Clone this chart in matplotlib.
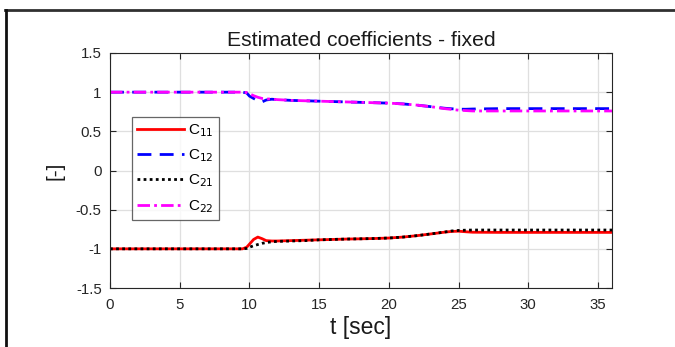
import matplotlib
matplotlib.use("Agg")
import matplotlib.pyplot as plt
from matplotlib.lines import Line2D

plt.rcParams['font.family'] = ['Liberation Sans', 'DejaVu Sans']

t = [0, 9.0, 9.5, 9.8, 10.0, 10.3, 10.6, 10.9, 11.2, 11.6, 12, 13, 14, 15, 16, 17, 18, 19, 20,
     21, 22, 23, 24, 24.5, 25, 25.5, 26, 28, 30, 32, 34, 36]
c11 = [-1, -1, -1, -0.98, -0.94, -0.88, -0.85, -0.87, -0.895, -0.9, -0.9, -0.895, -0.89, -0.885,
       -0.88, -0.875, -0.872, -0.868, -0.862, -0.85, -0.832, -0.81, -0.787, -0.778, -0.775,
       -0.782, -0.788, -0.79, -0.79, -0.79, -0.79, -0.79]
c21 = [-1, -1, -1, -0.995, -0.98, -0.96, -0.945, -0.93, -0.92, -0.91, -0.905, -0.9, -0.895,
       -0.885, -0.88, -0.875, -0.872, -0.868, -0.862, -0.85, -0.832, -0.81, -0.785, -0.772,
       -0.765, -0.762, -0.76, -0.76, -0.76, -0.76, -0.76, -0.76]
c12 = [1, 1, 1, 0.99, 0.95, 0.92, 0.89, 0.875, 0.9, 0.91, 0.905, 0.895, 0.89, 0.885, 0.88,
       0.875, 0.87, 0.865, 0.86, 0.85, 0.835, 0.815, 0.795, 0.788, 0.783, 0.782, 0.785, 0.79,
       0.79, 0.79, 0.79, 0.79]
c22 = [1, 1, 1, 0.995, 0.98, 0.955, 0.935, 0.92, 0.915, 0.91, 0.905, 0.895, 0.89, 0.885, 0.88,
       0.875, 0.87, 0.865, 0.86, 0.85, 0.835, 0.815, 0.79, 0.78, 0.77, 0.765, 0.76, 0.76, 0.76,
       0.76, 0.76, 0.76]

labels = ['C$_{11}$', 'C$_{12}$', 'C$_{21}$', 'C$_{22}$']
xticks = [0, 5, 10, 15, 20, 25, 30, 35]
yticks = [-1.5, -1, -0.5, 0, 0.5, 1, 1.5]
yticklabels = ['-1.5', '-1', '-0.5', '0', '0.5', '1', '1.5']

fig = plt.figure(figsize=(6.75, 3.47), dpi=100)
ax = fig.add_axes([110/675, 1 - 288/347, (612-110)/675, (288-53)/347])

ax.plot(t, c11, color='#ff0000', lw=2.0, ls='-', label=labels[0])
ax.plot(t, c12, color='#0000ff', lw=2.0, ls=(0, (5, 3)), label=labels[1])
ax.plot(t, c21, color='#000000', lw=2.0, ls=(0, (1, 1.2)), label=labels[2])
ax.plot(t, c22, color='#ff00ff', lw=2.0, ls=(0, (4.5, 1.5, 1, 1.5)), label=labels[3])

ax.set_xlim(0, 36)
ax.set_ylim(-1.5, 1.5)
ax.set_xticks(xticks)
ax.set_yticks(yticks)
ax.set_yticklabels(yticklabels)
ax.grid(True, color='#dfdfdf', lw=0.9)
ax.set_axisbelow(True)
ax.tick_params(direction='in', top=True, right=True, labelsize=10.8, length=4, width=0.8,
               colors='#262626', labelcolor='#262626')
ax.tick_params(axis='x', pad=7)
ax.tick_params(axis='y', pad=6)
for s in ax.spines.values():
    s.set_color('#262626')
    s.set_linewidth(0.8)

ax.set_title('Estimated coefficients - fixed', fontsize=15.2, color='#1a1a1a', pad=5)
ax.set_xlabel('t [sec]', fontsize=16.5, color='#1a1a1a', labelpad=3)
ax.set_ylabel('[-]', fontsize=15, color='#1a1a1a', labelpad=8)

leg = ax.legend(loc='upper left', bbox_to_anchor=(0.044, 0.728), fontsize=11,
                frameon=True, fancybox=False, borderpad=0.35, labelspacing=0.56,
                handlelength=3.05, handletextpad=0.26, borderaxespad=0)
leg.get_frame().set_edgecolor('#404040')
leg.get_frame().set_linewidth(0.9)

# figure border (top and left)
fig.add_artist(Line2D([5/675, 1], [1 - 10/347, 1 - 10/347], transform=fig.transFigure,
                      color='#303030', lw=2))
fig.add_artist(Line2D([6/675, 6/675], [0, 1 - 10/347], transform=fig.transFigure,
                      color='#101010', lw=2))

fig.savefig('out.png', dpi=100)
